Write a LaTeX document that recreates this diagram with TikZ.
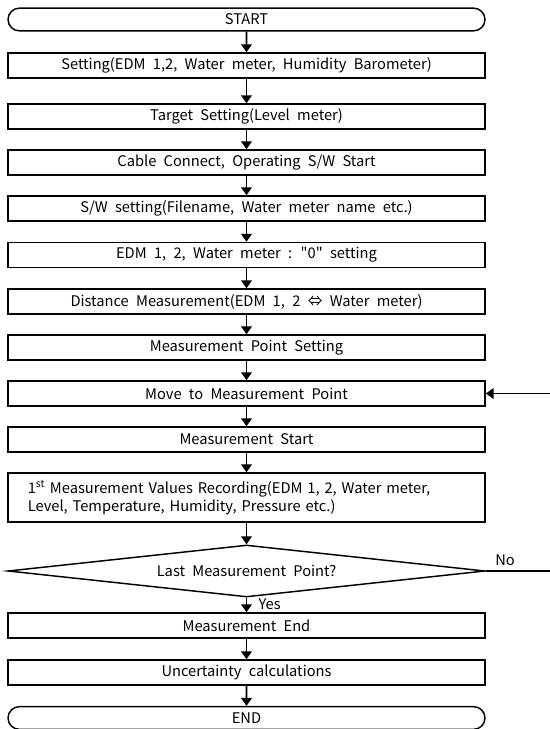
\documentclass[tikz,border=0pt]{standalone}
\usepackage{fontspec}
\setmainfont{Noto Sans CJK KR}
\usetikzlibrary{shapes.geometric,shapes.misc,arrows.meta}
\newcommand\chartfont{\fontsize{11}{13.5}\selectfont\spaceskip=5.5pt\relax}

\begin{document}
\begin{tikzpicture}[x=0.75pt,y=-0.75pt,
        font=\chartfont,
        box/.style={draw, line width=1.1pt, minimum width=357.75pt, minimum height=18.75pt, inner sep=0pt},
        term/.style={draw, rounded rectangle, line width=1.1pt, minimum width=357.75pt, minimum height=17pt, inner sep=0pt},
        arr/.style={line width=1.4pt, -{Triangle[length=6pt,width=8pt]}}]
            \useasboundingbox (0,0) rectangle (550,729);

            \node[term] (start) at (246.5,19.5) {START};
            \node[box] (set) at (246.5,65.5) {Setting(EDM 1,2, Water meter, Humidity Barometer)};
            \node[box] (target) at (246.5,116.5) {Target Setting(Level meter)};
            \node[box] (cable) at (246.5,162.5) {Cable Connect, Operating S/W Start};
            \node[box] (sw) at (246.5,208.5) {S/W setting(Filename, Water meter name etc.)};
            \node[box] (zero) at (246.5,255) {EDM 1, 2, Water meter : \textquotedbl0\textquotedbl\ setting};
            \node[box] (dist) at (246.5,301.5) {Distance Measurement(EDM 1, 2 ⇔ Water meter)};
            \node[box] (mpset) at (246.5,347.5) {Measurement Point Setting};
            \node[box] (move) at (246.5,393.5) {Move to Measurement Point};
            \node[box] (mstart) at (246.5,439.5) {Measurement Start};
            \node[box, minimum height=36.75pt, text width=328pt, align=left] (record) at (246.5,497.5)
                {1\textsuperscript{st} Measurement Values Recording(EDM 1, 2, Water meter,\\Level, Temperature, Humidity, Pressure etc.)};
            \node[draw, diamond, aspect=9.2, line width=1.1pt, minimum width=357.75pt, minimum height=39pt, inner sep=0pt] (last) at (246.5,571) {Last Measurement Point?};
            \node[box] (mend) at (246.5,625.5) {Measurement End};
            \node[box] (unc) at (246.5,672.5) {Uncertainty calculations};
            \node[term] (stop) at (246.5,718) {END};

            \coordinate (noend) at (550,571);
            \coordinate (back) at (550,393.5);

            \draw (start)[arr] -- (set);
            \draw (set)[arr] -- (target);
            \draw (target)[arr] -- (cable);
            \draw (cable)[arr] -- (sw);
            \draw (sw)[arr] -- (zero);
            \draw (zero)[arr] -- (dist);
            \draw (dist)[arr] -- (mpset);
            \draw (mpset)[arr] -- (move);
            \draw (move)[arr] -- (mstart);
            \draw (mstart)[arr] -- (record);
            \draw (record)[arr] -- (last);
            \draw (last)[arr] -- node[right=5pt, pos=0.45] (yes) {Yes} (mend);
            \draw (mend)[arr] -- (unc);
            \draw (unc)[arr] -- (stop);
            \draw (last.east)[line width=1.1pt] -- node[above, pos=0.3] (no) {No} (noend);
            \draw (back)[arr] -- (move.east);
        \end{tikzpicture}
\end{document}
